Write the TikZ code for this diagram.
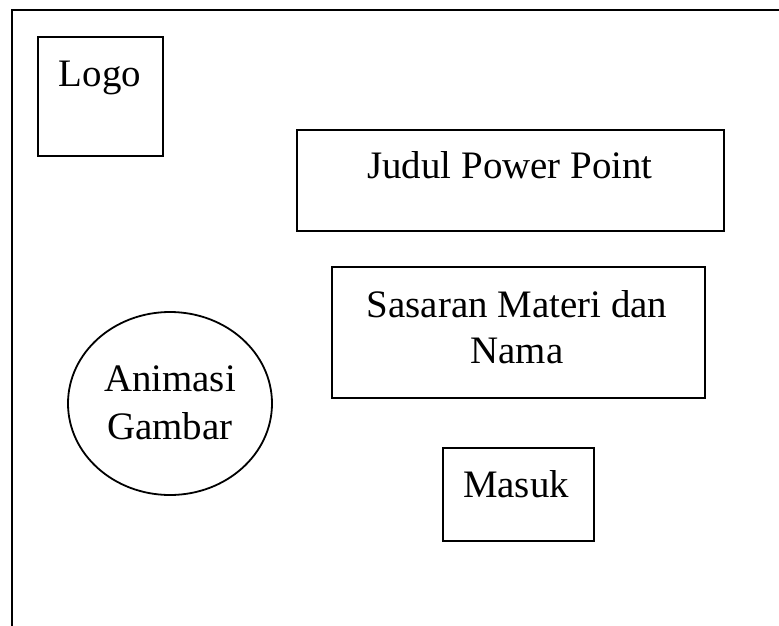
\documentclass[tikz,border=0pt]{standalone}
\usepackage{fontspec}
\setmainfont{Liberation Serif}
\usetikzlibrary{shapes.geometric}
\begin{document}
\begin{tikzpicture}[x=1pt,y=-1pt,
  frameline/.style={line width=2pt,black},
  boxshape/.style={draw,line width=2pt,rectangle,inner sep=0pt},
  ovalshape/.style={draw,line width=1.8pt,ellipse,inner sep=0pt},
  lbl/.style={inner sep=0pt,anchor=base,font=\fontsize{38.9}{47}\selectfont}]
\useasboundingbox (0,0) rectangle (779,626);
\fill[white] (0,0) rectangle (779,626);
% outer frame (only left and top edges in view)
\draw[frameline] (12,626) -- (12,10.5) -- (779,10.5);
% boxes
\node[boxshape,minimum width=125pt,minimum height=119pt] (logo) at (100.5,96.5) {};
\node[lbl] (logot) at (100,86) {Logo};
\node[boxshape,minimum width=427pt,minimum height=101pt] (judul) at (510.5,180.5) {};
\node[lbl] (judult) at (510,178) {Judul Power Point};
\node[boxshape,minimum width=373pt,minimum height=131pt] (sasaran) at (518.5,332.5) {};
\node[lbl] (sasarant1) at (517,317) {Sasaran Materi dan};
\node[lbl] (sasarant2) at (517,363) {Nama};
\node[boxshape,minimum width=151pt,minimum height=93pt] (masuk) at (518.5,494) {};
\node[lbl] (masukt) at (516,497) {Masuk};
\node[ovalshape,minimum width=204pt,minimum height=183pt] (anim) at (170,403.5) {};
\node[lbl] (animt1) at (170,391) {Animasi};
\node[lbl] (animt2) at (170,439) {Gambar};
\end{tikzpicture}
\end{document}
